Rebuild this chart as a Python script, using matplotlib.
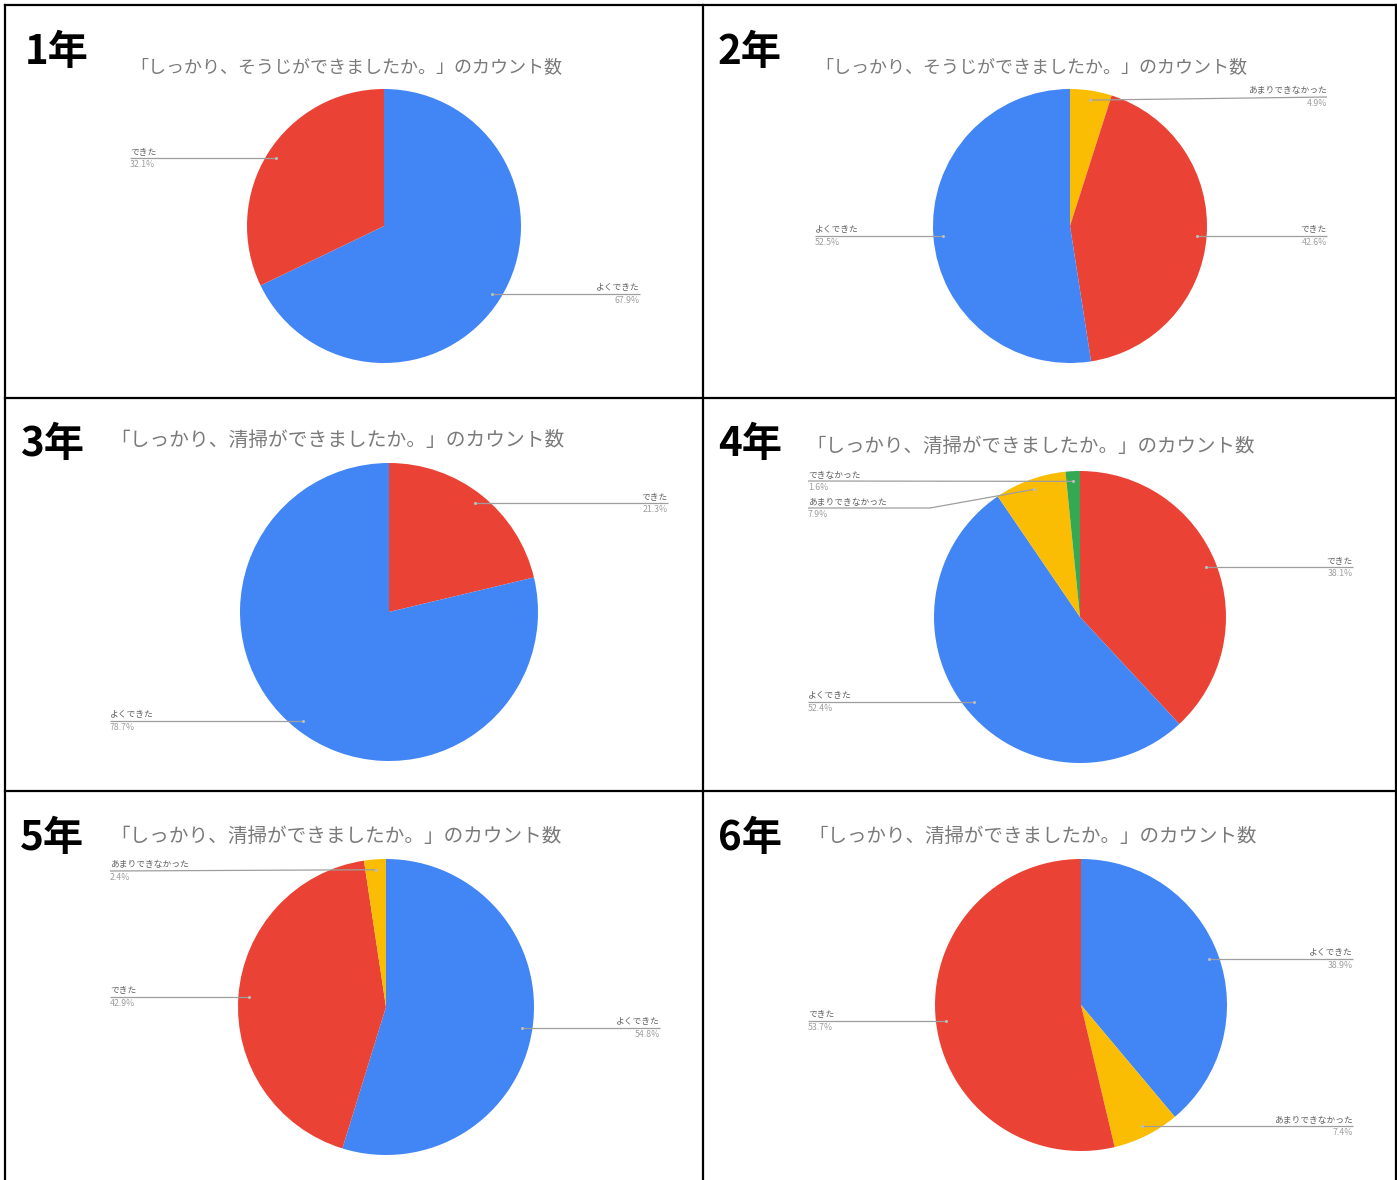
import math
import matplotlib
matplotlib.use("Agg")
import matplotlib.pyplot as plt

plt.rcParams['font.family'] = ['Noto Sans CJK JP', 'DejaVu Sans']

# Survey answers per grade (counts), in the order the slices are drawn
grades = ["1年", "2年", "3年", "4年", "5年", "6年"]
titles = [
    "「しっかり、そうじができましたか。」のカウント数",
    "「しっかり、そうじができましたか。」のカウント数",
    "「しっかり、清掃ができましたか。」のカウント数",
    "「しっかり、清掃ができましたか。」のカウント数",
    "「しっかり、清掃ができましたか。」のカウント数",
    "「しっかり、清掃ができましたか。」のカウント数",
]
grade1_labels = ["よくできた", "できた"]
grade1_counts = [19, 9]
grade2_labels = ["あまりできなかった", "できた", "よくできた"]
grade2_counts = [3, 26, 32]
grade3_labels = ["できた", "よくできた"]
grade3_counts = [10, 37]
grade4_labels = ["できた", "よくできた", "あまりできなかった", "できなかった"]
grade4_counts = [24, 33, 5, 1]
grade5_labels = ["よくできた", "できた", "あまりできなかった"]
grade5_counts = [23, 18, 1]
grade6_labels = ["よくできた", "あまりできなかった", "できた"]
grade6_counts = [21, 4, 29]

all_labels = [grade1_labels, grade2_labels, grade3_labels,
              grade4_labels, grade5_labels, grade6_labels]
all_counts = [grade1_counts, grade2_counts, grade3_counts,
              grade4_counts, grade5_counts, grade6_counts]

COLORS = {
    "よくできた": "#4285F4",
    "できた": "#EA4335",
    "あまりできなかった": "#FBBC04",
    "できなかった": "#34A853",
}

W, H = 1397, 1180
fig = plt.figure(figsize=(W / 100, H / 100), dpi=100)
fig.patch.set_facecolor("white")


def fx(x):
    return x / W


def fy(y):
    return 1 - y / H


# panel layout in pixels
pie_geom = [  # cx, cy, r
    (384, 226, 137), (1070, 226, 137),
    (389, 612, 149), (1080, 617, 146),
    (386, 1007, 148), (1081, 1005, 146),
]
title_pos = [(130, 67, 13), (815, 67, 13),
             (110, 440, 14.2), (806, 447, 14),
             (110, 836, 14.1), (808, 836, 14)]
grade_pos = [(25, 52), (718, 52), (20, 445), (718, 445), (20, 838), (718, 838)]

# label placement: (side, x edge, optional line y override, optional elbow x)
label_layout = [
    {"よくできた": ("R", 640), "できた": ("L", 130)},
    {"あまりできなかった": ("R", 1327, 97), "できた": ("R", 1327), "よくできた": ("L", 815)},
    {"できた": ("R", 668), "よくできた": ("L", 110)},
    {"できた": ("R", 1353), "よくできた": ("L", 808),
     "あまりできなかった": ("L", 808, 508, 930), "できなかった": ("L", 808, 481)},
    {"よくできた": ("R", 660), "できた": ("L", 110), "あまりできなかった": ("L", 110, 871)},
    {"よくできた": ("R", 1353), "あまりできなかった": ("R", 1353), "できた": ("L", 808)},
]

line_col = "#9e9e9e"

for i in range(6):
    cx, cy, r = pie_geom[i]
    ax = fig.add_axes([fx(cx - r), fy(cy + r), 2 * r / W, 2 * r / H])
    ax.axis("off")
    labels = all_labels[i]
    counts = all_counts[i]
    total = sum(counts)
    wedges, _ = ax.pie(counts, colors=[COLORS[l] for l in labels],
                       startangle=90, counterclock=False, radius=1,
                       wedgeprops=dict(linewidth=0))
    ax.set_xlim(-1, 1)
    ax.set_ylim(-1, 1)
    ax.set_aspect("equal")

    def to_data(px, py):
        return (px - cx) / r, (cy - py) / r

    for w, lab, cnt in zip(wedges, labels, counts):
        mid = math.radians((w.theta1 + w.theta2) / 2)
        ax_, ay_ = 0.93 * math.cos(mid), 0.93 * math.sin(mid)
        spec = label_layout[i][lab]
        side, xedge = spec[0], spec[1]
        anchor_py = cy - ay_ * r
        line_py = spec[2] if len(spec) > 2 else anchor_py
        ex, ey = to_data(xedge, line_py)
        if len(spec) > 3:
            bx, by = to_data(spec[3], line_py)
            xs, ys = [ax_, bx, ex], [ay_, by, ey]
        else:
            xs, ys = [ax_, ex], [ay_, ey]
        ax.plot(xs, ys, color=line_col, lw=0.9, clip_on=False, solid_capstyle="butt")
        ax.plot([ax_], [ay_], marker="o", ms=2.2, color="#bdbdbd", mec="none", clip_on=False)
        ha = "left" if side == "L" else "right"
        ax.text(ex, ey + 1.5 / r, lab, ha=ha, va="bottom", fontsize=6.3,
                color="#616161", clip_on=False)
        ax.text(ex, ey - 2.0 / r, f"{cnt / total * 100:.1f}%", ha=ha, va="top",
                fontsize=6.3, color="#9e9e9e", clip_on=False)

    tx, ty, ts = title_pos[i]
    fig.text(fx(tx), fy(ty), titles[i], ha="left", va="center",
             fontsize=ts, color="#7a7a7a")
    gx, gy = grade_pos[i]
    fig.text(fx(gx), fy(gy), grades[i], ha="left", va="center",
             fontsize=29, fontweight="bold", color="black")

# grid frame
frame_kw = dict(color="black", lw=1.6, transform=fig.transFigure)
for y in (5, 398, 791):
    fig.add_artist(plt.Line2D([fx(5), fx(1396)], [fy(y), fy(y)], **frame_kw))
for x in (5, 703, 1396):
    fig.add_artist(plt.Line2D([fx(x), fx(x)], [fy(5), fy(1180)], **frame_kw))

fig.savefig("out.png", dpi=100, facecolor="white")
